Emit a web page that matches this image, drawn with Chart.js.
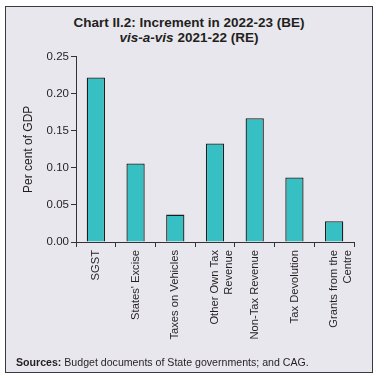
<!DOCTYPE html>
<html>
<head>
<meta charset="utf-8">
<script src="https://cdn.jsdelivr.net/npm/chart.js@4/dist/chart.umd.min.js"></script>
<style>
  html, body { margin: 0; padding: 0; background: #ffffff; }
  #wrap { position: relative; width: 378px; height: 377px; overflow: hidden; font-family: "Liberation Sans", Arial, sans-serif; }
  #frame { position: absolute; left: 5px; top: 6px; width: 366px; height: 365px; border: 1px solid #3a3a3a; background: #e9e7ee; }
  #title { position: absolute; left: 0; top: 15px; width: 378px; text-align: center; font-weight: bold; font-size: 13.5px; line-height: 15px; color: #231f20; }
  #src { position: absolute; left: 16px; top: 356px; font-size: 10.6px; line-height: 12px; color: #231f20; white-space: nowrap; }
  canvas { position: absolute; left: 0; top: 0; }
</style>
</head>
<body>
<div id="wrap">
  <div id="frame"></div>
  <div id="title">Chart II.2: Increment in 2022-23 (BE)<br><i>vis-a-vis</i> 2021-22 (RE)</div>
  <canvas id="c" width="378" height="377"></canvas>
  <div id="src"><b>Sources:</b> Budget documents of State governments; and CAG.</div>
</div>
<script>
const categories = [
  "SGST",
  "States' Excise",
  "Taxes on Vehicles",
  ["Other Own Tax", "Revenue"],
  "Non-Tax Revenue",
  "Tax Devolution",
  ["Grants from the", "Centre"]
];
const increment = [0.222, 0.106, 0.037, 0.133, 0.167, 0.087, 0.028];
const yTicks = [0, 0.05, 0.10, 0.15, 0.20, 0.25];
const yAxisTitle = "Per cent of GDP";

const axisColor = '#333333';
const textColor = '#231f20';

new Chart(document.getElementById('c'), {
  type: 'bar',
  data: {
    labels: categories,
    datasets: [{
      data: increment,
      backgroundColor: '#36c0c3',
      borderColor: '#1e1e1e',
      borderWidth: 1.3,
      categoryPercentage: 1,
      barPercentage: 0.46
    }]
  },
  options: {
    responsive: false,
    animation: false,
    devicePixelRatio: 1,
    layout: { padding: { left: 0, top: 56.7, right: 24, bottom: 0 } },
    plugins: { legend: { display: false }, tooltip: { enabled: false }, title: { display: false } },
    scales: {
      x: {
        grid: { display: true, offset: true, drawOnChartArea: false, drawTicks: true, tickLength: 5, color: axisColor, lineWidth: 1 },
        border: { display: true, color: axisColor, width: 1 },
        ticks: {
          autoSkip: false, maxRotation: 90, minRotation: 90, padding: 3,
          color: textColor, font: { family: 'Liberation Sans', size: 11.2 }
        },
        afterFit: (s) => { s.height = 377 - 242; }
      },
      y: {
        min: 0, max: 0.25,
        afterBuildTicks: (s) => { s.ticks = yTicks.map(v => ({ value: v })); },
        grid: { display: true, drawOnChartArea: false, drawTicks: true, tickLength: 5, color: axisColor, lineWidth: 1 },
        border: { display: true, color: axisColor, width: 1 },
        ticks: {
          padding: 2, color: textColor, font: { family: 'Liberation Sans', size: 11.5 },
          callback: (v) => Number(v).toFixed(2)
        },
        title: {
          display: true, text: yAxisTitle, color: textColor,
          font: { family: 'Liberation Sans', size: 12 }, padding: { top: 21.8, bottom: 0 }
        },
        afterFit: (s) => { s.width = 76; }
      }
    }
  }
});
</script>
</body>
</html>
